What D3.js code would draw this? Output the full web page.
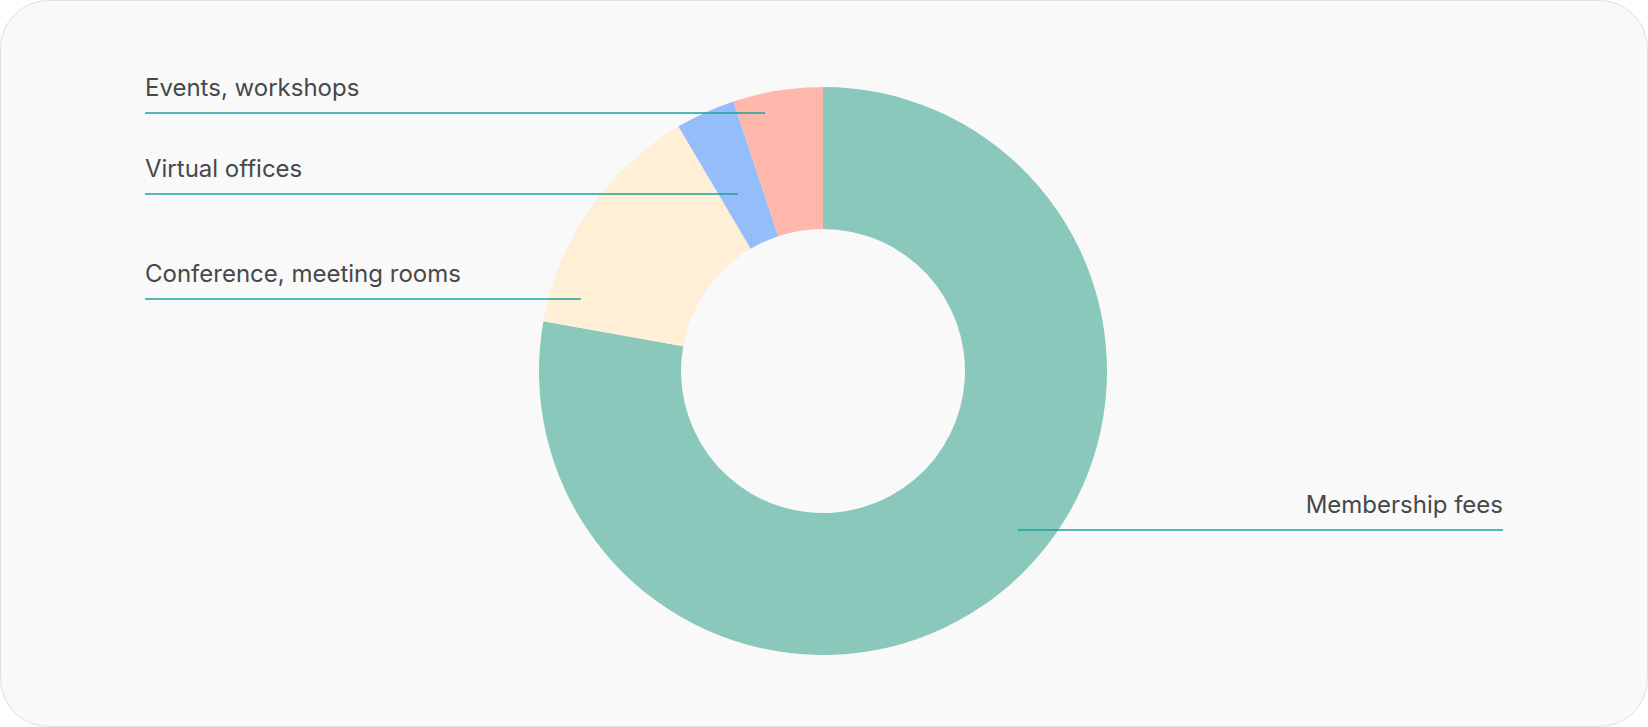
<!DOCTYPE html>
<html>
<head>
<meta charset='utf-8'>
<title>Revenue sources</title>
<script src='https://d3js.org/d3.v7.min.js'></script>
<style>
body {margin:0; background-color:#ffffff;}
svg {display:block;}
.label {font-family:Inter, 'Noto Sans', sans-serif; font-size:24px; fill:#45494b;}
.leader {stroke:#1ba29b; stroke-width:1.5;}
</style>
</head>
<body>
<svg id='chart'></svg>

<script>
var width = 1648
var height = 727

// slices, clockwise from 12 o'clock
var categories = ['Membership fees','Conference, meeting rooms','Virtual offices','Events, workshops']
var shares = [77.8,13.7,3.4,5.1]
var colors = ['#89c8ba','#ffefd7','#94bdfa','#ffb6ab']

// label placement: text side, line y, line start x, line end x
var labelSide = ['right','left','left','left']
var lineY = [530,299,194,113]
var lineX0 = [1018,145,145,145]
var lineX1 = [1503,581,738,765]

var cx = 823
var cy = 371
var outerR = 284
var innerR = 142

var svg = d3.select('#chart')
    .attr('width',width)
    .attr('height',height)

//card background
svg.append('rect')
    .attr('x',0.5)
    .attr('y',0.5)
    .attr('width',width-1)
    .attr('height',height-1)
    .attr('rx',48)
    .attr('fill','#f9f9f9')
    .attr('stroke','#e0e0e0')

//donut
var pie = d3.pie().sort(null).value(function(d) {return d;})
var arc = d3.arc().innerRadius(innerR).outerRadius(outerR)

svg.append('g')
    .attr('transform','translate('+cx+','+cy+')')
  .selectAll('path')
  .data(pie(shares))
  .enter()
  .append('path')
    .attr('d',arc)
    .attr('fill',function(d,i) {return colors[i];})

//leader lines
svg.append('g')
  .selectAll('line')
  .data(categories)
  .enter()
  .append('line')
    .attr('class','leader')
    .attr('x1',function(d,i) {return lineX0[i];})
    .attr('x2',function(d,i) {return lineX1[i];})
    .attr('y1',function(d,i) {return lineY[i];})
    .attr('y2',function(d,i) {return lineY[i];})

//labels
svg.append('g')
  .selectAll('text')
  .data(categories)
  .enter()
  .append('text')
    .attr('class','label')
    .attr('text-anchor',function(d,i) {return labelSide[i]=='right' ? 'end' : 'start';})
    .attr('x',function(d,i) {return labelSide[i]=='right' ? lineX1[i] : lineX0[i];})
    .attr('y',function(d,i) {return lineY[i]-17;})
    .text(function(d) {return d;})
</script>
</body>
</html>
